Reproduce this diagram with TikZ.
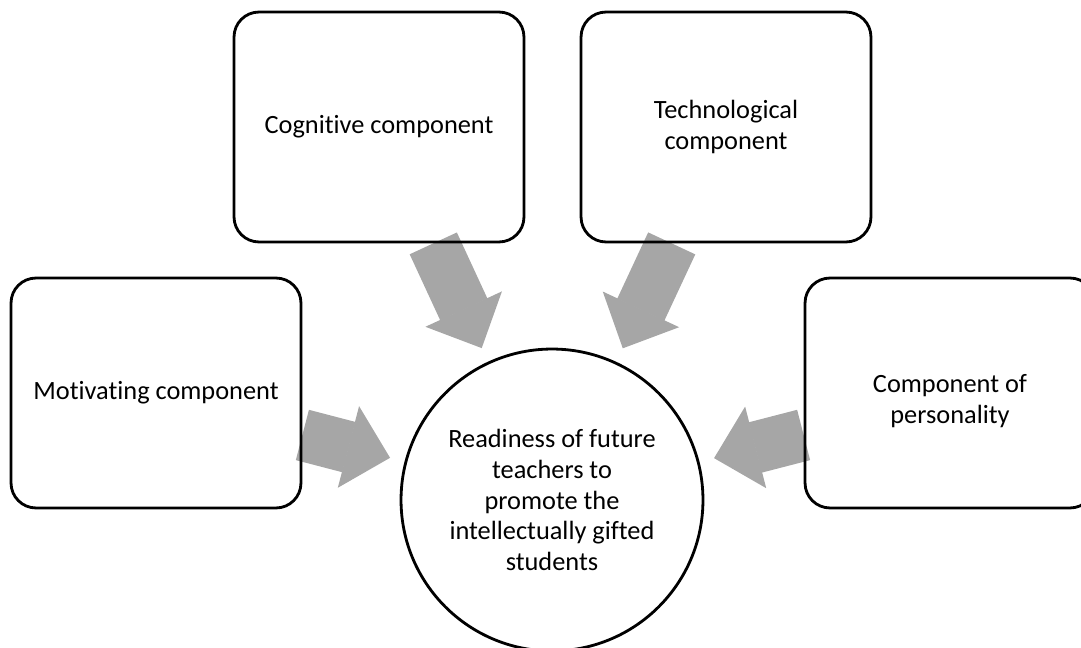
\documentclass[tikz,border=0pt]{standalone}
\usepackage{fontspec}
\setmainfont{Carlito}[Ligatures={NoCommon,NoRequired,NoContextual},Contextuals=NoAlternate]
\definecolor{arrowgray}{RGB}{166,166,166}
\usetikzlibrary{arrows.meta,backgrounds}

\begin{document}
\begin{tikzpicture}[x=0.02cm,y=-0.02cm,
    font=\fontsize{15}{17.5}\selectfont,
    compbox/.style={draw,line width=1.6pt,rounded corners=0.5cm,minimum width=5.8cm,minimum height=4.6cm,align=center},
    goalnode/.style={draw,circle,line width=1.6pt,minimum size=6.04cm,align=center},
    bigarrow/.style={draw=arrowgray,line width=1.04cm,-{Triangle[length=0.86cm,width=1.68cm,line width=1pt]},shorten >=0.3cm}
    ]
    \useasboundingbox (0,0) rectangle (1081,648);

    % the components
    \node[compbox] (mot) at (156,393) {Motivating component};
    \node[compbox] (cog) at (379,127) {Cognitive component};
    \node[compbox] (tech) at (726,127) {Technological\\component};
    \node[compbox] (pers) at (950,393) {\\[2pt]Component of\\personality};

    % the readiness
    \node[goalnode] (goal) at (552,500) {Readiness of future\\teachers to\\promote the\\intellectually gifted\\students};

    % the arrows
    \begin{scope}[on background layer]
    \draw[bigarrow] (mot.-16) -- (goal);
    \draw[bigarrow] (cog.-65) -- (goal);
    \draw[bigarrow] (tech.-115) -- (goal);
    \draw[bigarrow] (pers.196) -- (goal);
    \end{scope}
\end{tikzpicture}
\end{document}
